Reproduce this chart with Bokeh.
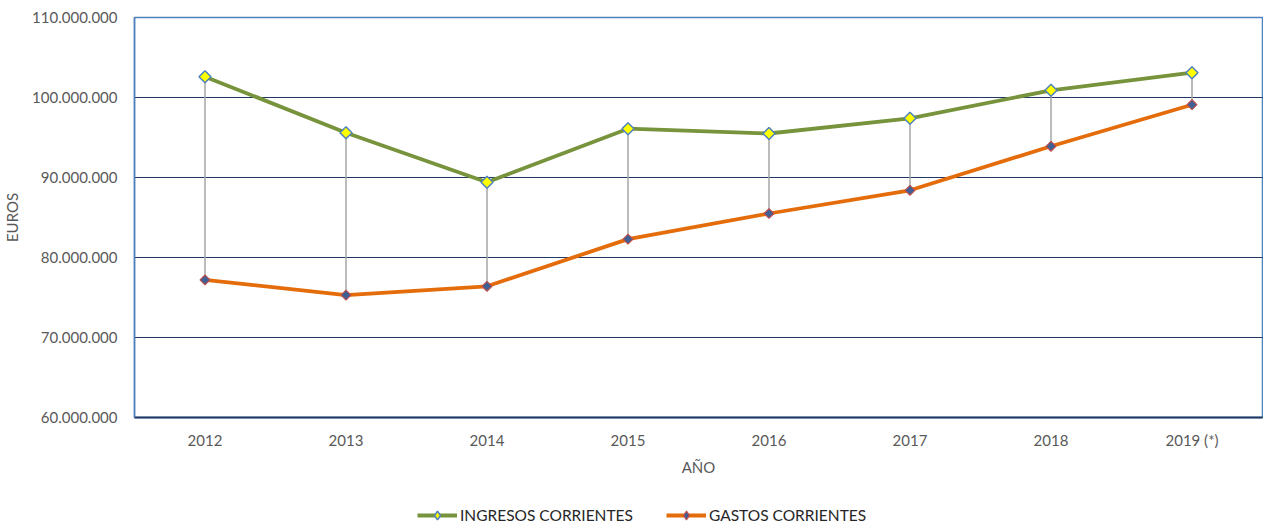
from bokeh.plotting import figure
from bokeh.layouts import column
from bokeh.models import Range1d, FixedTicker, Legend, LegendItem, ColumnDataSource
from bokeh.embed import file_html
from bokeh.resources import INLINE
import math

years = ["2012", "2013", "2014", "2015", "2016", "2017", "2018", "2019 (*)"]
ingresos = [102600000, 95600000, 89400000, 96100000, 95500000, 97400000, 100900000, 103100000]
gastos = [77200000, 75300000, 76400000, 82300000, 85500000, 88400000, 93900000, 99100000]
y_ticks = [60000000, 70000000, 80000000, 90000000, 100000000, 110000000]
y_tick_labels = ["60.000.000", "70.000.000", "80.000.000", "90.000.000", "100.000.000", "110.000.000"]
series_names = ["INGRESOS CORRIENTES", "GASTOS CORRIENTES"]

FONT = "Lato"
GREY = "#595959"
ING_LINE = dict(line_color="#77933C", line_width=3.8)
GAS_LINE = dict(line_color="#E46C0A", line_width=3.8)
ING_STYLE = dict(fill_color="#FFFF00", line_color="#4F81BD", line_width=1.5)
GAS_STYLE = dict(fill_color="#3F5F95", line_color="#C0504D", line_width=1.2)

src = ColumnDataSource(dict(x=years, ing=ingresos, gas=gastos))

p = figure(width=1263, height=479, x_range=years, y_range=Range1d(60000000, 110000000),
           output_backend="svg", toolbar_location=None,
           min_border_left=127, min_border_top=17, min_border_bottom=62, min_border_right=1)
p.x_range.range_padding = 0

p.outline_line_color = "#4F81BD"
p.outline_line_width = 1.5

p.yaxis.ticker = FixedTicker(ticks=y_ticks)
p.yaxis.major_label_overrides = {t: l for t, l in zip(y_ticks, y_tick_labels)}
p.yaxis.axis_line_color = "#4F81BD"
p.yaxis.axis_line_width = 1.5
p.yaxis.major_label_standoff = 17
p.yaxis.axis_label = "EUROS"
p.yaxis.axis_label_standoff = 8

p.xaxis.axis_line_color = "#1F3864"
p.xaxis.axis_line_width = 2
p.xaxis.major_label_standoff = 13
p.xaxis.axis_label = "AÑO"
p.xaxis.axis_label_standoff = 6

for ax in (p.xaxis[0], p.yaxis[0]):
    ax.major_tick_line_color = None
    ax.minor_tick_line_color = None
    ax.major_tick_out = 0
    ax.major_tick_in = 0
    ax.minor_tick_out = 0
    ax.minor_tick_in = 0
    ax.major_label_text_font = FONT
    ax.major_label_text_font_size = "15px"
    ax.major_label_text_color = GREY
    ax.axis_label_text_font = FONT
    ax.axis_label_text_font_size = "15px"
    ax.axis_label_text_font_style = "normal"
    ax.axis_label_text_color = GREY

p.xgrid.grid_line_color = None
p.ygrid.grid_line_color = "#1F3864"
p.ygrid.grid_line_width = 1.2

p.segment(x0="x", y0="gas", x1="x", y1="ing", source=src, line_color="#A6A6A6", line_width=1.5)
p.line("x", "ing", source=src, **ING_LINE)
p.line("x", "gas", source=src, **GAS_LINE)
p.scatter("x", "ing", source=src, marker="square", angle=math.pi / 4, size=8.5, **ING_STYLE)
p.scatter("x", "gas", source=src, marker="square", angle=math.pi / 4, size=7, **GAS_STYLE)

# legend strip below the chart (same data, outside its visible range, only legend glyphs show)
lf = figure(width=1263, height=47, x_range=p.x_range, y_range=Range1d(0, 1),
            output_backend="svg", toolbar_location=None, min_border=0,
            x_axis_location=None, y_axis_location=None)
lf.outline_line_color = None
lf.grid.visible = False
k1 = lf.line("x", "ing", source=src, **ING_LINE)
k2 = lf.scatter("x", "ing", source=src, marker="diamond", size=10, **ING_STYLE)
k3 = lf.line("x", "gas", source=src, **GAS_LINE)
k4 = lf.scatter("x", "gas", source=src, marker="diamond", size=9, **GAS_STYLE)
legend = Legend(items=[LegendItem(label=series_names[0], renderers=[k1, k2]),
                       LegendItem(label=series_names[1], renderers=[k3, k4])],
                orientation="horizontal", location=(283, 0),
                padding=0, margin=0, spacing=33, glyph_width=40, glyph_height=22,
                label_height=22, label_standoff=3,
                label_text_font=FONT, label_text_font_size="15.5px", label_text_color="#262626",
                border_line_color=None, background_fill_alpha=0)
lf.add_layout(legend, "center")

layout = column(p, lf, spacing=0)
open("out.html", "w").write(file_html(layout, INLINE))
